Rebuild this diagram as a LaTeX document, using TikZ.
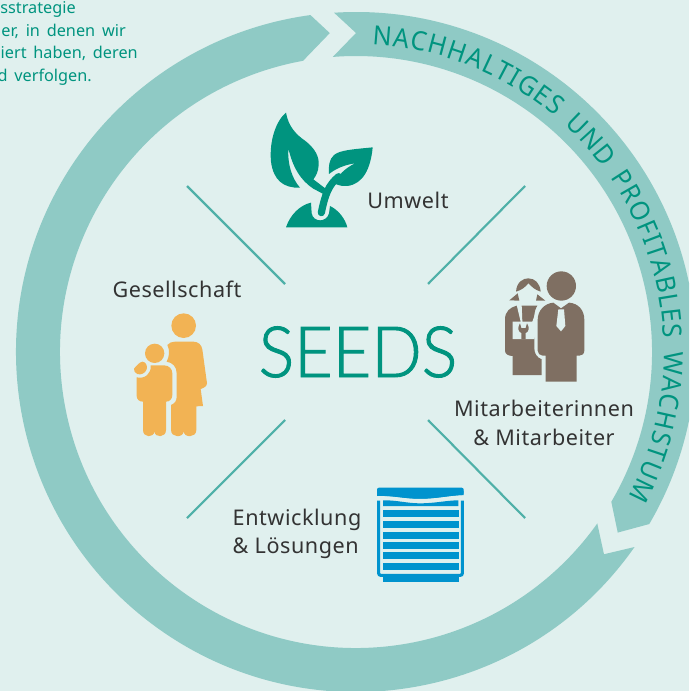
\documentclass[tikz,border=0pt]{standalone}
\usepackage{fontspec}
\usetikzlibrary{decorations.text}
\setmainfont{Noto Sans}[WordSpace=1.6]
\newfontfamily\seedfont[UprightFont={* Light},FakeStretch=0.94]{Lato}
\newfontfamily\labelfont[LetterSpace=2.5]{Noto Sans}
\newfontfamily\ringfont[FakeStretch=0.95,WordSpace=1.5]{Noto Sans}
\definecolor{bgc}{HTML}{E0F0EE}
\definecolor{bandc}{HTML}{8FCAC5}
\definecolor{linec}{HTML}{4FB0A8}
\definecolor{tealc}{HTML}{00947F}
\definecolor{textc}{HTML}{333333}
\definecolor{orangec}{HTML}{F2B354}
\definecolor{brownc}{HTML}{7F6F62}
\definecolor{bluec}{HTML}{0093CE}
\tikzset{
 band/.style={fill=bandc},
 spoke/.style={draw=linec,line width=1.6pt},
 lab/.style={font=\labelfont\fontsize{16.2}{21.5}\selectfont,text=textc,inner sep=0pt,align=center},
 lead/.style={font=\fontsize{12.2}{14}\selectfont,text=tealc,inner sep=0pt,anchor=base east},
 icon/.style={x=.25pt,y=-.25pt},
}
\begin{document}
\begin{tikzpicture}[x=.75pt,y=-.75pt]
\useasboundingbox (0,0) rectangle (689,691);
\fill[bgc] (0,0) rectangle (689,691);
\clip (0,0) rectangle (689,691);
% ring
\begin{scope}[shift={(356,352)}]
\fill[band] (35:340) arc[start angle=35,end angle=262.3,radius=340] -- (265.3:320) -- (259.7:296) arc[start angle=259.7,end angle=35.4,radius=296] -- (39.2:320) -- cycle;
\fill[band] (266.3:340) arc[start angle=266.3,end angle=390.4,radius=340] -- (394.6:318) -- (390.4:296) arc[start angle=390.4,end angle=265.5,radius=296] -- (270:319) -- cycle;
\path[decorate,decoration={text along path,text align={fit to path},text={|\ringfont\fontsize{19.8}{20}\selectfont\color{tealc}|NACHHALTIGES UND PROFITABLES WACHSTUM}}] (-87:308) arc[start angle=-87,end angle=28,radius=308];
\end{scope}
% lead text
\node[lead] (l1) at (76,14) {sstrategie};
\node[lead] (l2) at (126,37) {er, in denen wir};
\node[lead] (l3) at (138,59) {iert haben, deren};
\node[lead] (l4) at (92,82) {d verfolgen.};
% spokes
\draw[spoke] (187,186) -- (285,284);
\draw[spoke] (525,186) -- (428,284);
\draw[spoke] (285,420) -- (187,518);
\draw[spoke] (428,420) -- (525,518);
% centre
\node[font=\seedfont\fontsize{53}{60}\selectfont,text=tealc,inner sep=0pt] (seeds) at (358,352) {\special{pdf:code 2 Tr 0.7 w}SEEDS\special{pdf:code 0 Tr}};
% labels
\node[lab,anchor=base] (umwelt) at (408,209) {Umwelt};
\node[lab,anchor=base] (ges) at (177,297) {Gesellschaft};
\node[lab] (mit) at (544,423) {Mitarbeiterinnen\\\& Mitarbeiter};
\node[lab,align=left] (ent) at (297,534) {Entwicklung\\\& Lösungen};
% plant
\begin{scope}[shift={(260,100)},icon]
\fill[tealc] (78,38) .. controls (85,80) and (110,105) .. (135,122) .. controls (165,145) and (178,170) .. (176,195) .. controls (175,215) and (168,228) .. (160,238) -- (197,266) -- (190,282) -- (160,266) .. controls (120,240) and (98,200) .. (85,145) .. controls (82,190) and (95,235) .. (120,263) .. controls (70,265) and (40,240) .. (33,185) .. controls (27,120) and (50,60) .. (78,38) -- cycle;
\fill[tealc] (338,142) .. controls (280,148) and (240,150) .. (222,165) .. controls (207,178) and (205,200) .. (207,222) .. controls (225,208) and (250,195) .. (285,190) .. controls (255,205) and (235,225) .. (222,250) .. controls (240,258) and (250,259) .. (262,258) .. controls (310,252) and (332,205) .. (338,142) -- cycle;
\draw[tealc,line width=5.4pt,line cap=round] (236,230) .. controls (205,255) and (195,285) .. (184,338);
\fill[tealc] (78,382) .. controls (90,345) and (120,315) .. (153,308) -- (155,340) .. controls (160,368) and (200,368) .. (207,340) -- (210,318) .. controls (235,330) and (255,355) .. (262,382) -- cycle;
\end{scope}
% family
\begin{scope}[shift={(110,290)},icon]
\fill[orangec] (221,107) circle[radius=37];
\fill[orangec] (172,165) .. controls (178,158) and (185,155) .. (195,155) -- (250,155) .. controls (265,155) and (275,165) .. (277,178) -- (291,280) .. controls (291,288) and (282,294) .. (272,297) -- (279,348) -- (259,349) -- (259,420) .. controls (259,444) and (222,444) .. (221,424) .. controls (220,444) and (183,444) .. (183,420) -- (183,345) .. controls (195,340) and (200,332) .. (200,320) -- (200,250) .. controls (200,230) and (188,218) .. (170,215) .. controls (178,200) and (180,180) .. (172,165) -- cycle;
\fill[orangec] (134,190) circle[radius=29];
\fill[orangec] (122,226) -- (162,226) .. controls (178,226) and (187,238) .. (187,250) -- (187,315) .. controls (187,328) and (178,335) .. (168,335) -- (168,420) .. controls (168,444) and (134,444) .. (133,424) .. controls (132,444) and (99,444) .. (99,420) -- (99,335) .. controls (88,335) and (80,328) .. (80,318) -- (80,262) .. controls (105,268) and (125,250) .. (122,226) -- cycle;
\fill[orangec] (72,236) .. controls (78,228) and (90,215) .. (98,215) .. controls (108,216) and (113,228) .. (110,238) .. controls (106,250) and (92,256) .. (82,252) .. controls (76,249) and (70,243) .. (72,236) -- cycle;
\end{scope}
% staff
\begin{scope}[shift={(490,260)},icon]
\fill[brownc] (214,78) circle[radius=44];
\fill[brownc] (78,95) .. controls (80,65) and (100,55) .. (115,55) .. controls (135,55) and (150,70) .. (152,95) .. controls (135,90) and (125,80) .. (115,70) .. controls (105,82) and (95,90) .. (78,95) -- cycle;
\fill[brownc] (58,121) -- (83,100) -- (88,122) -- cycle;
\fill[brownc] (142,103) -- (166,122) -- (138,122) -- cycle;
\fill[brownc] (80,137) .. controls (60,142) and (45,155) .. (45,178) -- (45,272) .. controls (45,282) and (55,288) .. (68,288) -- (68,345) -- (155,345) -- (155,298) .. controls (140,292) and (133,280) .. (133,265) -- (133,170) .. controls (133,155) and (137,145) .. (142,137) -- cycle;
\fill[bgc] (80,135) -- (95,135) -- (97,185) -- (127,185) -- (145,135) -- (160,135) -- (133,237) -- (68,237) -- (68,185) -- (92,185) -- cycle;
\fill[brownc] (90,190) .. controls (81,203) and (85,216) .. (94,219) -- (94,237) -- (107,237) -- (107,219) .. controls (116,216) and (120,203) .. (111,190) -- (107,204) -- (94,204) -- cycle;
\fill[brownc] (190,128) -- (213,145) -- (237,128) .. controls (265,130) and (283,150) .. (283,180) -- (283,272) .. controls (283,282) and (275,287) .. (268,287) -- (260,287) -- (260,365) -- (167,365) -- (167,287) -- (158,287) .. controls (150,287) and (143,280) .. (143,272) -- (143,180) .. controls (143,150) and (165,130) .. (190,128) -- cycle;
\fill[bgc] (205,148) -- (222,148) -- (226,198) -- (213,214) -- (199,198) -- cycle;
\end{scope}
% product
\begin{scope}[shift={(360,470)},icon]
\fill[bluec,rounded corners=1.5pt] (51,78) -- (51,53) -- (311,53) -- (311,75) .. controls (270,76) and (230,86) .. (180,86) .. controls (130,86) and (100,76) .. (51,78) -- cycle;
\fill[bluec] (51,78) -- (51,62) -- (311,62) -- (311,75) .. controls (270,76) and (230,86) .. (180,86) .. controls (130,86) and (100,76) .. (51,78) -- cycle;
\draw[bluec,line width=2.3pt,rounded corners=1.5pt] (56,92) -- (56,316) -- (307,316) -- (307,92);
\fill[bluec] (69,318) rectangle (297,336);
\fill[bluec] (69,91) .. controls (110,90) and (140,100) .. (180,100) .. controls (225,100) and (260,91) .. (295,91) -- (295,108) -- (69,108) -- cycle;
\fill[bluec] (69,120) rectangle (297,141);
\fill[bluec] (69,153) rectangle (297,174);
\fill[bluec] (69,185) rectangle (297,206);
\fill[bluec] (69,216) rectangle (297,237);
\fill[bluec] (69,247) rectangle (297,267);
\fill[bluec] (69,278) rectangle (297,300);
\end{scope}
\end{tikzpicture}
\end{document}
